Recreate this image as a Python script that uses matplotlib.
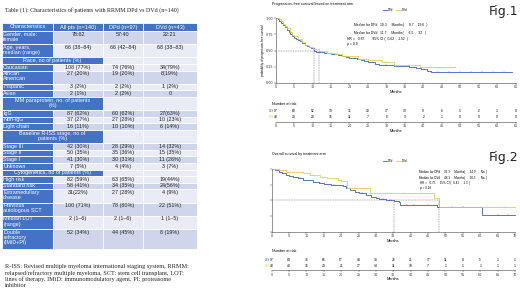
import numpy as np
import matplotlib
matplotlib.use("Agg")
import matplotlib.pyplot as plt
from matplotlib.patches import Rectangle

W, H = 520, 295

# ---------------- table data ----------------
table_title = "Table (1): Characteristics of patients with RRMM DPd vs DVd (n=140)"
header = ["Characteristics", "All pts (n=140)", "DPd (n=97)", "DVd (n=43)"]
row_labels = ["Gender, male:\nfemale", "Age, years,\nmedian (range)", "Race, no of patients (%)",
              "Caucasian", "African\nAmerican", "Hispanic", "Asian",
              "MM paraprotein, no. of patients\n(%)", "IgG", "Non-IgG", "Light chain",
              "Baseline R-ISS stage, no of\npatients (%)", "Stage III", "Stage II", "Stage I", "Unknown",
              "Cytogenetics, no of patients (%)", "High risk", "Standard risk",
              "Extramedullary\ndisease", "Previous\nautologous SCT", "Median LOT\n(range)",
              "Double\nrefractory\n(IMiD+PI)"]
all_pts = ["78:62", "66 (38\u201384)", "", "108 (77%)", "27 (20%)", "3 (2%)", "2 (1%)",
           "", "87 (62%)", "37 (27%)", "16 (11%)", "", "42 (30%)", "50 (35%)", "41 (30%)", "7 (5%)",
           "", "82 (59%)", "58 (41%)", "31(22%)", "100 (71%)", "2 (1\u20136)", "52 (34%)"]
dpd_vals = ["57:40", "66 (42\u201384)", "", "74 (76%)", "19 (20%)", "2 (2%)", "2 (2%)",
            "", "60 (62%)", "27 (28%)", "10 (10%)", "", "28 (29%)", "35 (36%)", "30 (31%)", "4 (4%)",
            "", "63 (65%)", "34 (35%)", "27 (28%)", "78 (80%)", "2 (1\u20136)", "44 (45%)"]
dvd_vals = ["22:21", "68 (38\u201383)", "", "34(79%)", "8(19%)", "1 (2%)", "0",
            "", "27(63%)", "10 (23%)", "6 (14%)", "", "14 (32%)", "15 (35%)", "11 (26%)", "3 (7%)",
            "", "19(44%)", "24(56%)", "4 (9%)", "22 (51%)", "1 (1\u20135)", "8 (19%)"]
section_rows = [2, 7, 11, 16]
caption = ("R-ISS: Revised multiple myeloma international staging system, RRMM:\n"
           "relapsed/refractory multiple myeloma, SCT: stem cell transplant, LOT:\n"
           "lines of therapy, IMiD: immunomodulatory agent, PI: proteasome\n"
           "inhibitor")

# ---------------- Kaplan-Meier data ----------------
# Fig.1 progression-free survival
pfs_dpd_t = [0, 0.5, 1, 1.5, 2, 2.5, 3, 3.5, 4, 4.5, 5, 5.5, 6, 6.5, 7, 7.5, 8, 8.5, 9, 9.5,
             10.3, 11, 12, 13, 14, 15, 16, 17, 18, 19, 20, 21, 22, 23, 24, 25, 26, 27, 28, 29,
             32, 34, 36, 38, 39.5, 41, 42, 64]
pfs_dpd_s = [1.0, 0.98, 0.95, 0.92, 0.89, 0.86, 0.82, 0.79, 0.76, 0.73, 0.70, 0.68, 0.66, 0.64,
             0.62, 0.61, 0.59, 0.57, 0.555, 0.54, 0.495, 0.48, 0.47, 0.465, 0.46, 0.45, 0.44, 0.43,
             0.415, 0.40, 0.39, 0.38, 0.37, 0.36, 0.34, 0.33, 0.32, 0.30, 0.28, 0.275, 0.26, 0.255,
             0.25, 0.23, 0.21, 0.18, 0.17, 0.17]
pfs_dvd_t = [0, 1, 1.5, 2, 2.5, 3, 4, 4.5, 5, 6, 7, 8, 9, 10, 11.7, 14, 16, 18, 22.4, 25,
             28.8, 32, 33, 39, 48.7]
pfs_dvd_s = [1.0, 0.98, 0.95, 0.91, 0.88, 0.84, 0.79, 0.74, 0.72, 0.67, 0.63, 0.58, 0.56, 0.53,
             0.49, 0.465, 0.44, 0.42, 0.37, 0.35, 0.32, 0.28, 0.27, 0.24, 0.24]
pfs_dpd_cens = [13.5, 16.5, 21.5, 26.5, 30, 35, 44, 47, 50, 53, 56, 59, 62]
pfs_dvd_cens = [15, 19, 24, 30, 36, 42, 45]
pfs_medians = [10.3, 11.7]
pfs_risk_dpd = [97, 68, 52, 39, 31, 20, 17, 13, 9, 6, 5, 2, 1, 0]
pfs_risk_dvd = [43, 29, 20, 15, 11, 7, 6, 3, 2, 1, 0, 0, 0, 0]

# Fig.2 overall survival
os_dpd_t = [0, 1, 2, 3, 4, 5, 6, 7.5, 9, 10.5, 12, 13.5, 15, 17, 19, 20.5, 21.5, 22.5, 24, 25,
            27, 28.5, 30, 31, 33, 35.3, 36.5, 37, 43, 47.5, 60.4, 70]
os_dpd_s = [1.0, 0.98, 0.96, 0.93, 0.91, 0.89, 0.87, 0.85, 0.83, 0.82, 0.80, 0.78, 0.76, 0.75,
            0.74, 0.73, 0.69, 0.67, 0.63, 0.61, 0.58, 0.55, 0.53, 0.52, 0.51, 0.49, 0.47, 0.43,
            0.42, 0.40, 0.26, 0.26]
os_dvd_t = [0, 2, 4, 6, 9, 11, 14, 16, 19, 20, 21.6, 28.3, 46.7, 48.1, 70]
os_dvd_s = [1.0, 0.98, 0.96, 0.95, 0.93, 0.91, 0.88, 0.86, 0.83, 0.81, 0.69, 0.61, 0.53, 0.40, 0.40]
os_dpd_cens = [8, 14, 18, 26, 32, 34, 39, 41, 45, 52, 55, 65, 68]
os_dvd_cens = [12, 24, 33, 38, 43, 55, 62, 67]
os_medians = [35.3, 48.1]
os_risk_dpd = [97, 84, 76, 66, 57, 43, 33, 26, 21, 17, 11, 8, 5, 1, 1]
os_risk_dvd = [43, 40, 36, 29, 21, 17, 14, 11, 10, 7, 1, 1, 1, 1, 1]

BLUE = "#3F5FB0"
YELLOW = "#E0CD4E"
TBL_BLUE = "#4472C4"
LIGHT1 = "#CFD5EA"
LIGHT2 = "#E9EBF5"
SANS = "Liberation Sans"

fig = plt.figure(figsize=(W / 100, H / 100), dpi=100)
canvas = fig.add_axes([0, 0, 1, 1])
canvas.set_xlim(0, W)
canvas.set_ylim(H, 0)
canvas.axis("off")


def px_axes(x0, y0, x1, y1):
    return fig.add_axes([x0 / W, 1 - y1 / H, (x1 - x0) / W, (y1 - y0) / H])


# ---------------- table ----------------
canvas.text(5, 10, table_title, family="Liberation Serif", fontsize=4.3, va="center", color="#222")
col_x = [2, 53, 103, 143, 197]
line_h = 6.6
y = 23
hh = 8
for j, txt in enumerate(header):
    canvas.add_patch(Rectangle((col_x[j], y), col_x[j + 1] - col_x[j], hh, fc=TBL_BLUE, ec="white", lw=0.6))
    canvas.text((col_x[j] + col_x[j + 1]) / 2, y + hh / 2, txt, ha="center", va="center",
                color="white", fontsize=4.0, family=SANS)
y += hh
fs = 3.9
for i, lab in enumerate(row_labels):
    n = lab.count("\n") + 1
    h = line_h * n
    light = LIGHT1 if i % 2 == 0 else LIGHT2
    if i in section_rows:
        canvas.add_patch(Rectangle((col_x[0], y), col_x[2] - col_x[0], h, fc=TBL_BLUE, ec="white", lw=0.6))
        canvas.text((col_x[0] + col_x[2]) / 2, y + 0.6, lab, ha="center", va="top", color="white",
                    fontsize=fs, family=SANS, linespacing=1.05)
        for k in (2, 3):
            canvas.add_patch(Rectangle((col_x[k], y), col_x[k + 1] - col_x[k], h, fc=LIGHT2, ec="white", lw=0.6))
    else:
        canvas.add_patch(Rectangle((col_x[0], y), col_x[1] - col_x[0], h, fc=TBL_BLUE, ec="white", lw=0.6))
        canvas.text(col_x[0] + 1.2, y + 0.6, lab, ha="left", va="top", color="white",
                    fontsize=fs, family=SANS, linespacing=1.05)
        for k, v in enumerate([all_pts[i], dpd_vals[i], dvd_vals[i]]):
            c0, c1 = col_x[k + 1], col_x[k + 2]
            canvas.add_patch(Rectangle((c0, y), c1 - c0, h, fc=light, ec="white", lw=0.6))
            canvas.text((c0 + c1) / 2, y + 0.6, v, ha="center", va="top", color="#222",
                        fontsize=fs, family=SANS)
    y += h

canvas.text(5, 264, caption, family="Liberation Serif", fontsize=4.5, va="top", ha="left",
            color="#222", linespacing=1.22)


# ---------------- Kaplan-Meier panels ----------------
def surv_at(t_list, s_list, times):
    idx = np.searchsorted(t_list, times, side="right") - 1
    return np.array(s_list)[idx]


def km_panel(box, xmax, curves, medians, ylabel, show_yticks):
    ax = px_axes(*box)
    for t, s, cens, col, name in curves:
        ax.step(t, s, where="post", color=col, lw=0.6, label=name, clip_on=False)
        ax.plot(cens, surv_at(t, s, cens), ls="none", marker="|", ms=1.6, mew=0.3, color=col, clip_on=False)
    m1, m2 = medians
    ax.plot([0, m2], [0.5, 0.5], color="#555", lw=0.35, ls=(0, (2, 1.5)))
    ax.plot([m1, m1], [0, 0.5], color="#555", lw=0.35, ls=(0, (2, 1.5)))
    ax.plot([m2, m2], [0, 0.5], color="#555", lw=0.35, ls=(0, (2, 1.5)))
    ax.set_xlim(0, xmax)
    ax.set_ylim(0, 1)
    ax.set_xticks(np.arange(0, xmax + 1, 5))
    ax.set_yticks([0, 0.25, 0.5, 0.75, 1.0])
    if show_yticks:
        ax.set_yticklabels(["0.00", "0.25", "0.50", "0.75", "1.00"])
    else:
        ax.set_yticklabels([])
    for sp in ("top", "right"):
        ax.spines[sp].set_visible(False)
    for sp in ("left", "bottom"):
        ax.spines[sp].set_linewidth(0.4)
        ax.spines[sp].set_color("#444")
    ax.tick_params(labelsize=2.4, length=1.2, width=0.3, pad=0.6, colors="#333")
    ax.set_xlabel("Months", fontsize=2.8, labelpad=0.4, family=SANS)
    ax.set_ylabel(ylabel, fontsize=2.2, labelpad=0.6, family=SANS)
    ax.patch.set_alpha(0)
    return ax


def risk_panel(box, xmax, risk_dpd, risk_dvd, ys):
    ax = px_axes(*box)
    times = np.arange(0, 5 * len(risk_dpd), 5)
    for t, v in zip(times, risk_dpd):
        ax.text(t, ys[0], str(v), ha="center", va="center", fontsize=2.4, family=SANS)
    for t, v in zip(times, risk_dvd):
        ax.text(t, ys[1], str(v), ha="center", va="center", fontsize=2.4, family=SANS)
    ax.text(-0.6, ys[0], "DPd", ha="right", va="center", fontsize=1.8, color=BLUE, family=SANS)
    ax.text(-0.6, ys[1], "DVd", ha="right", va="center", fontsize=1.8, color=YELLOW, family=SANS)
    ax.set_xlim(0, xmax)
    ax.set_ylim(0, 1)
    ax.set_xticks(np.arange(0, xmax + 1, 5))
    ax.set_yticks([])
    for sp in ("top", "right", "left"):
        ax.spines[sp].set_visible(False)
    ax.spines["bottom"].set_linewidth(0.4)
    ax.spines["bottom"].set_color("#444")
    ax.tick_params(labelsize=2.4, length=1.2, width=0.3, pad=0.6, colors="#333")
    ax.set_xlabel("Months", fontsize=2.8, labelpad=0.4, family=SANS)
    ax.patch.set_alpha(0)
    return ax


# Fig.1
ax1 = km_panel((275.7, 18, 515.5, 83), 65,
               [(pfs_dpd_t, pfs_dpd_s, pfs_dpd_cens, BLUE, "DPd"),
                (pfs_dvd_t, pfs_dvd_s, pfs_dvd_cens, YELLOW, "DVd")],
               pfs_medians, "probability of progression-free survival", True)
ax1.legend(loc="center", bbox_to_anchor=(395 / W, 1 - 10 / H), bbox_transform=fig.transFigure,
           ncol=2, fontsize=2.0, frameon=False, handlelength=1.6, columnspacing=1.0, handletextpad=0.4)
canvas.text(272, 4, "Progression\u2013free survival based on treatment arm", fontsize=2.6,
            family=SANS, va="center")
canvas.text(518, 12, "Fig.1", fontsize=9, ha="right", va="center", family="DejaVu Sans", color="#222")
canvas.text(377, 25, "Median for DPd", fontsize=2.4, ha="right", va="center", family=SANS)
canvas.text(377, 33, "Median for DVd", fontsize=2.4, ha="right", va="center", family=SANS)
canvas.text(380, 25, "10.3     Months(     8.7  , 19.6  )", fontsize=2.4, va="center", family=SANS)
canvas.text(380, 33, "11.7     Months(     6.5  ,  32   )", fontsize=2.4, va="center", family=SANS)
canvas.text(347, 39, "HR =   0.87        95% CI (  0.62  , 1.52  )", fontsize=2.4, va="center", family=SANS)
canvas.text(347, 44, "p = 0.9", fontsize=2.4, va="center", family=SANS)
canvas.text(272, 104, "Number at risk", fontsize=2.7, va="center", family=SANS)
risk_panel((275.7, 107, 515.5, 121.7), 65, pfs_risk_dpd, pfs_risk_dvd, (0.73, 0.32))

# Fig.2
ax2 = km_panel((271.7, 169, 515, 231.7), 70,
               [(os_dpd_t, os_dpd_s, os_dpd_cens, BLUE, "DPd"),
                (os_dvd_t, os_dvd_s, os_dvd_cens, YELLOW, "DVd")],
               os_medians, "", False)
ax2.legend(loc="center", bbox_to_anchor=(395 / W, 1 - 161 / H), bbox_transform=fig.transFigure,
           ncol=2, fontsize=2.0, frameon=False, handlelength=1.6, columnspacing=1.0, handletextpad=0.4)
canvas.text(272, 154, "Overall survival by treatment arm", fontsize=2.6, family=SANS, va="center")
canvas.text(518, 158, "Fig.2", fontsize=9, ha="right", va="center", family="DejaVu Sans", color="#222")
canvas.text(440, 172, "Median for DPd", fontsize=2.2, ha="right", va="center", family=SANS)
canvas.text(440, 178, "Median for DVd", fontsize=2.2, ha="right", va="center", family=SANS)
canvas.text(444, 172, "35.3     Months(     24.9   ,  Na  )", fontsize=2.2, va="center", family=SANS)
canvas.text(444, 178, "48.1     Months(     28.5   ,  Na  )", fontsize=2.2, va="center", family=SANS)
canvas.text(420, 183, "HR =   0.75     95% CI (  0.41  ,  1.3  )", fontsize=2.2, va="center", family=SANS)
canvas.text(420, 187.5, "p = 0.28", fontsize=2.2, va="center", family=SANS)
canvas.text(272, 251, "Number at risk", fontsize=2.7, va="center", family=SANS)
risk_panel((271.7, 255, 515, 270), 70, os_risk_dpd, os_risk_dvd, (0.67, 0.27))

fig.savefig("out.png", dpi=100)
